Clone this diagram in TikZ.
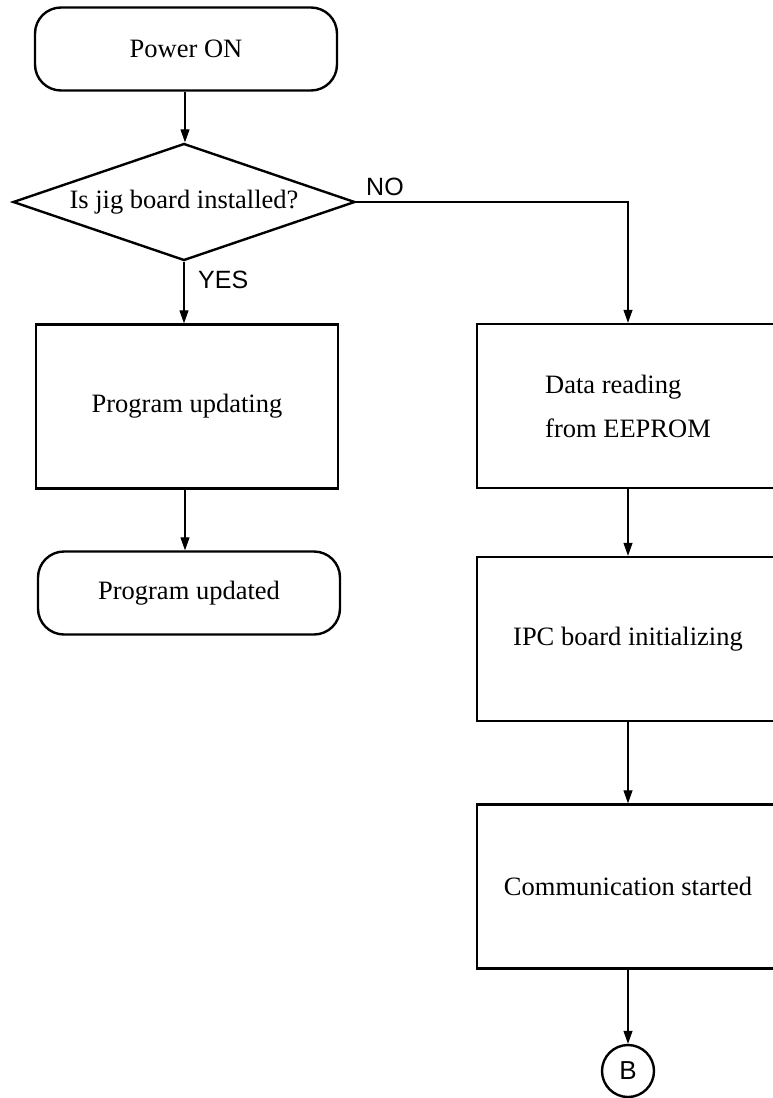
\documentclass[tikz,border=0pt]{standalone}
\usepackage{fontspec}
\setmainfont{Liberation Serif}
\newfontfamily\labelsans{Liberation Sans}
\usetikzlibrary{shapes.geometric,arrows.meta}
\tikzset{
  base/.style={draw, line width=2.4pt, inner sep=0pt, font=\fontsize{26.5}{44}\selectfont},
  term/.style={base, rounded corners=26pt, minimum width=302pt, minimum height=83pt},
  procbox/.style={base, minimum width=302pt, minimum height=164pt},
  decis/.style={base, diamond, aspect=2.92, minimum width=342pt, minimum height=117pt},
  conn/.style={base, circle, minimum size=52pt, font=\labelsans\fontsize{26}{30}\selectfont},
  flow/.style={line width=1.1pt, -{Triangle[length=13pt,width=9pt]}},
  lab/.style={font=\labelsans\fontsize{25}{30}\selectfont, inner sep=0pt, anchor=base west}
}
\begin{document}
\begin{tikzpicture}[x=1pt,y=-1pt]
\useasboundingbox (0,0) rectangle (773,1098);
\clip (0,0) rectangle (773,1098);
\node[term] (pon) at (186,49) {Power ON};
\node[decis] (jig) at (184,202) {Is jig board installed?};
\node[procbox] (pupd) at (187,406.5) {Program updating};
\node[term] (pdone) at (189,593) {Program updated};
\node[procbox, align=left] (eep) at (628,406) {Data reading\\from EEPROM};
\node[procbox] (ipc) at (628,639) {IPC board initializing};
\node[procbox] (comm) at (628,886.5) {Communication started};
\node[conn] (b) at (628,1071) {B};
\coordinate (turn) at (jig.east -| eep.north);
\draw[flow] (pon.south -| 185,0) -- (185,0 |- jig.north);
\draw[flow] (jig.south) -- (jig.south |- pupd.north);
\draw[flow] (pupd.south -| 185,0) -- (185,0 |- pdone.north);
\draw[flow] (jig.east) -- (turn) -- (eep.north);
\draw[flow] (eep.south) -- (ipc.north);
\draw[flow] (ipc.south) -- (comm.north);
\draw[flow] (comm.south) -- (b.north);
\node[lab] (no) at (366,195) {NO};
\node[lab] (yes) at (198,288) {YES};
\end{tikzpicture}
\end{document}
